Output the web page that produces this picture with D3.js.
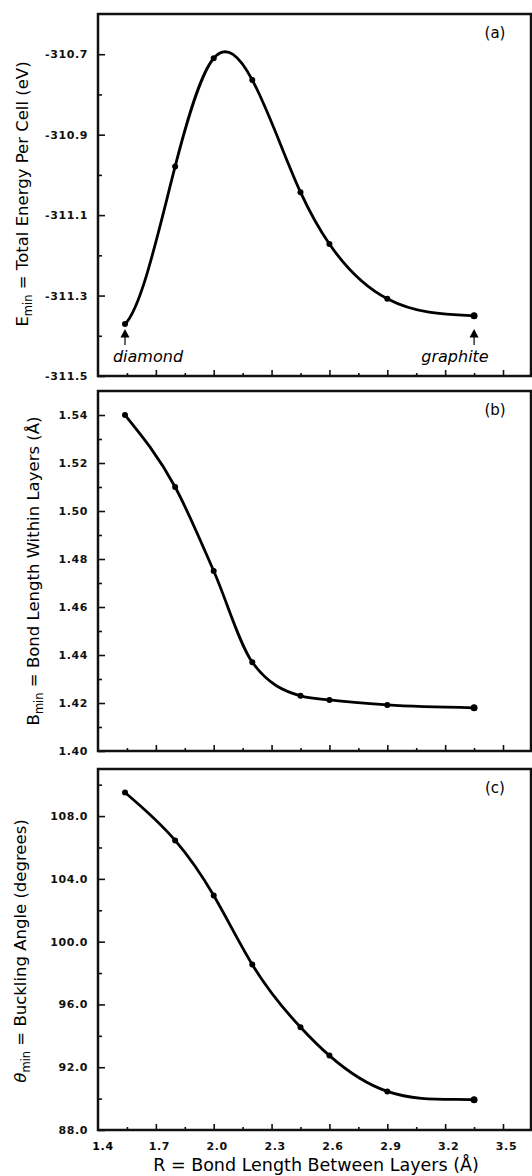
<!DOCTYPE html>
<head>
  <meta charset="utf-8">
  <script src="https://d3js.org/d3.v7.min.js"></script>
  <style>
    body { margin: 0; background: #fff; }
    text { font-family: 'DejaVu Sans'; fill: #000; }
    .axis path { display: none; }
    .axis line { stroke: #111; stroke-width: 1.6; }
    .axis text { font-size: 11px; letter-spacing: 0.6px; font-weight: bold; fill: #111; }
    .frame { fill: none; stroke: #111; stroke-width: 2.5; }
    .curve { fill: none; stroke: #000; stroke-width: 2.8; }
    .dot { fill: #000; }
    .title { font-size: 16.5px; }
    .xtitle { font-size: 17.5px; }
    .tag { font-size: 15px; }
    .note { font-size: 16px; font-style: italic; }
  </style>
</head>
<body>
  <script>
    // interlayer bond length R (Å)
    var R = [1.54, 1.8, 2.0, 2.2, 2.45, 2.6, 2.9, 3.35];
    var energy = [-311.371, -310.979, -310.710, -310.764, -311.043, -311.172, -311.308, -311.350];
    var bondWithin = [1.540, 1.510, 1.475, 1.437, 1.423, 1.4213, 1.4192, 1.418];
    var buckling = [109.5, 106.45, 102.94, 98.54, 94.55, 92.74, 90.46, 89.93];

    var xTicks = [1.4, 1.7, 2.0, 2.3, 2.6, 2.9, 3.2, 3.5];
    var xMinor = [1.55, 1.85, 2.15, 2.45, 2.75, 3.05, 3.35];
    var energyTicks = [-310.7, -310.9, -311.1, -311.3, -311.5];
    var energyMinor = [-310.8, -311.0, -311.2, -311.4];
    var bondTicks = [1.54, 1.52, 1.50, 1.48, 1.46, 1.44, 1.42, 1.40];
    var bondMinor = [1.53, 1.51, 1.49, 1.47, 1.45, 1.43, 1.41];
    var angleTicks = [108, 104, 100, 96, 92, 88];
    var angleMinor = [110, 106, 102, 98, 94, 90];

    var W = 532, H = 1176;
    var left = 98, right = 530;

    // cubic spline through the points, with optional end slopes (pixel dy/dx);
    // a null slope gives the natural end condition
    function splineCurve(s0, s1) {
      return function(context) {
        var px, py;
        return {
          lineStart: function() { px = []; py = []; },
          point: function(a, b) { px.push(+a); py.push(+b); },
          areaStart: function() {}, areaEnd: function() {},
          lineEnd: function() {
            var n = px.length, i, h = [], A = [], B = [], C = [], D = [];
            for (i = 0; i < n - 1; i++) h[i] = px[i + 1] - px[i];
            for (i = 0; i < n; i++) {
              if (i == 0) {
                if (s0 == null) { A[i] = 0; B[i] = 1; C[i] = 0; D[i] = 0; }
                else { A[i] = 0; B[i] = 2 * h[0]; C[i] = h[0]; D[i] = 6 * ((py[1] - py[0]) / h[0] - s0); }
              } else if (i == n - 1) {
                if (s1 == null) { A[i] = 0; B[i] = 1; C[i] = 0; D[i] = 0; }
                else { A[i] = h[n - 2]; B[i] = 2 * h[n - 2]; C[i] = 0; D[i] = 6 * (s1 - (py[n - 1] - py[n - 2]) / h[n - 2]); }
              } else {
                A[i] = h[i - 1]; B[i] = 2 * (h[i - 1] + h[i]); C[i] = h[i];
                D[i] = 6 * ((py[i + 1] - py[i]) / h[i] - (py[i] - py[i - 1]) / h[i - 1]);
              }
            }
            for (i = 1; i < n; i++) {
              var m = A[i] / B[i - 1];
              B[i] -= m * C[i - 1];
              D[i] -= m * D[i - 1];
            }
            var M = [];
            M[n - 1] = D[n - 1] / B[n - 1];
            for (i = n - 2; i >= 0; i--) M[i] = (D[i] - C[i] * M[i + 1]) / B[i];

            context.moveTo(px[0], py[0]);
            for (i = 0; i < n - 1; i++) {
              var sec = (py[i + 1] - py[i]) / h[i];
              var m0 = sec - h[i] * (2 * M[i] + M[i + 1]) / 6;
              var m1 = sec + h[i] * (M[i] + 2 * M[i + 1]) / 6;
              context.bezierCurveTo(
                px[i] + h[i] / 3, py[i] + m0 * h[i] / 3,
                px[i + 1] - h[i] / 3, py[i + 1] - m1 * h[i] / 3,
                px[i + 1], py[i + 1]);
            }
          }
        };
      };
    }

    var svg = d3.select("body").append("svg")
        .attr("width", W)
        .attr("height", H);

    var x = d3.scaleLinear()
        .domain([1.4, 3.64])
        .range([left, right]);

    var panels = [
      { key: "a", values: energy, domain: [-311.5, -310.6], top: 14, bottom: 376,
        ticks: energyTicks, minor: energyMinor, dec: 1, curve: splineCurve(-1.0, 0.04) },
      { key: "b", values: bondWithin, domain: [1.40, 1.55], top: 391, bottom: 751,
        ticks: bondTicks, minor: bondMinor, dec: 2, curve: d3.curveMonotoneX },
      { key: "c", values: buckling, domain: [88, 111], top: 769, bottom: 1130,
        ticks: angleTicks, minor: angleMinor, dec: 1, curve: splineCurve(null, 0.03) }
    ];

    panels.forEach(function(p, i) {
      var y = d3.scaleLinear().domain(p.domain).range([p.bottom, p.top]);
      p.y = y;
      var g = svg.append("g");

      // y ticks point inward
      g.append("g")
          .attr("class", "axis")
          .attr("transform", "translate(" + left + ",0)")
          .call(d3.axisLeft(y).tickValues(p.ticks).tickSize(-7).tickPadding(10)
            .tickFormat(function(d) { return d.toFixed(p.dec); }));
      g.append("g")
          .attr("class", "axis")
          .attr("transform", "translate(" + left + ",0)")
          .call(d3.axisLeft(y).tickValues(p.minor).tickSize(-4).tickFormat(""));

      // x ticks on the bottom edge
      var xa = g.append("g")
          .attr("class", "axis")
          .attr("transform", "translate(0," + p.bottom + ")")
          .call(d3.axisBottom(x).tickValues(xTicks.slice(1)).tickSize(-6).tickPadding(12)
            .tickFormat(i == 2 ? function(d) { return d.toFixed(1); } : ""));
      g.append("g")
          .attr("class", "axis")
          .attr("transform", "translate(0," + p.bottom + ")")
          .call(d3.axisBottom(x).tickValues(xMinor).tickSize(-3).tickFormat(""));
      if (i == 2) {
        xa.selectAll("text").attr("dx", 3);
        g.append("text")
            .attr("x", x(xTicks[0]) + 5)
            .attr("y", p.bottom + 12)
            .attr("dy", "0.71em")
            .attr("text-anchor", "middle")
            .style("font-size", "11px")
            .style("font-weight", "bold")
            .style("letter-spacing", "0.6px")
            .text(xTicks[0].toFixed(1));
      }

      g.append("rect")
          .attr("class", "frame")
          .attr("x", left)
          .attr("y", p.top)
          .attr("width", right - left + 1)
          .attr("height", p.bottom - p.top);

      var pts = R.map(function(r, j) { return [r, p.values[j]]; });

      g.append("path")
          .datum(pts)
          .attr("class", "curve")
          .attr("d", d3.line()
            .x(function(d) { return x(d[0]); })
            .y(function(d) { return y(d[1]); })
            .curve(p.curve));

      g.selectAll(".dot")
          .data(pts)
        .enter().append("circle")
          .attr("class", "dot")
          .attr("cx", function(d) { return x(d[0]); })
          .attr("cy", function(d) { return y(d[1]); })
          .attr("r", function(d, j) { return j == pts.length - 1 ? 3.5 : 3; });

      g.append("text")
          .attr("class", "tag")
          .attr("x", 495)
          .attr("y", p.top + 24)
          .attr("text-anchor", "middle")
          .text("(" + p.key + ")");
    });

    // arrows under the end states in panel (a), just above their labels
    [[R[0], "diamond", 148], [R[7], "graphite", 455]].forEach(function(a) {
      var cx = x(a[0]);
      svg.append("path")
          .attr("d", "M" + cx + ",329l-4.5,8.5h9z")
          .attr("fill", "#000");
      svg.append("line")
          .attr("x1", cx).attr("x2", cx)
          .attr("y1", 337).attr("y2", 345)
          .attr("stroke", "#000").attr("stroke-width", 1.2);
      svg.append("text")
          .attr("class", "note")
          .attr("x", a[2])
          .attr("y", 362)
          .attr("text-anchor", "middle")
          .text(a[1]);
    });

    // axis titles
    function yTitle(cx, cy, parts) {
      var t = svg.append("text")
          .attr("class", "title")
          .attr("text-anchor", "middle")
          .attr("transform", "translate(" + cx + "," + cy + ") rotate(-90)");
      parts.forEach(function(s) {
        var ts = t.append("tspan").text(s[0]);
        if (s[1] == "sub") ts.attr("dy", 4).style("font-size", "11.5px");
        if (s[1] == "up") ts.attr("dy", -4);
        if (s[1] == "it") ts.style("font-style", "italic");
      });
    }

    yTitle(28, 194, [["E"], ["min", "sub"], [" = Total Energy Per Cell (eV)", "up"]]);
    yTitle(39, 571, [["B"], ["min", "sub"], [" =  Bond Length Within Layers (Å)", "up"]]);
    yTitle(26, 951, [["θ", "it"], ["min", "sub"], [" = Buckling Angle (degrees)", "up"]]);

    svg.append("text")
        .attr("class", "xtitle")
        .attr("x", 316)
        .attr("y", 1171)
        .attr("text-anchor", "middle")
        .text("R = Bond Length Between Layers (Å)");
  </script>
</body>
